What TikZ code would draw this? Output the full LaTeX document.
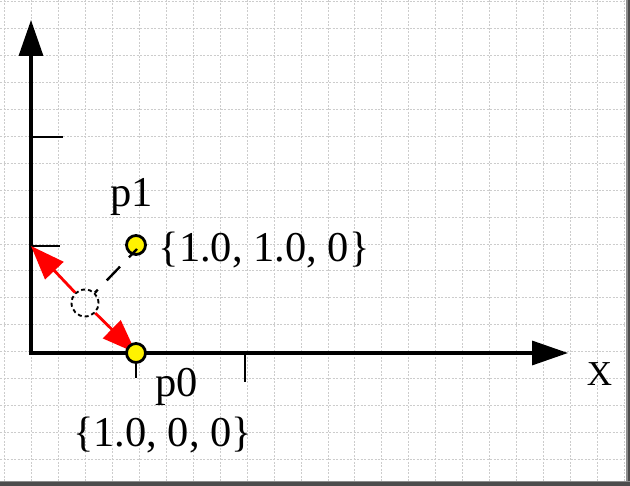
\documentclass[tikz,border=0pt]{standalone}
\usepackage{fontspec}
\setmainfont{Liberation Serif}
\usetikzlibrary{arrows.meta}
\begin{document}
\begin{tikzpicture}[x=1pt,y=-1pt,
  gridline/.style={draw=black!20, line width=0.9pt, dash pattern=on 2pt off 1.5pt},
  axisline/.style={line width=3.4pt, line join=miter, {Triangle[length=36pt,width=24pt]}-{Triangle[length=36pt,width=24pt]}},
  tickline/.style={line width=2.8pt},
  dot/.style={circle, fill=yellow, draw=black, line width=2.8pt, minimum size=19pt, inner sep=0pt},
  ghost/.style={circle, draw=black, line width=1.9pt, dash pattern=on 4pt off 3pt, minimum size=27pt, inner sep=0pt},
  redarrow/.style={draw=red, line width=2.8pt, -{Triangle[length=34pt,width=25pt]}},
  leader/.style={line width=2.4pt, dash pattern=on 19pt off 13pt, dash phase=15pt},
  lbl/.style={inner sep=0pt, anchor=base, font=\fontsize{42.5}{42.5}\selectfont},
]
\useasboundingbox (0,0) rectangle (630,486);
\fill[white] (0,0) rectangle (630,486);
% grid
\foreach \k in {0,...,23} {
  \draw[gridline] ({4.8+26.93*\k},0) -- ({4.8+26.93*\k},481);
}
\foreach \k in {0,...,17} {
  \draw[gridline] (0,{1.9+26.9*\k}) -- (626,{1.9+26.9*\k});
}
% frame shadow
\fill[black!45] (626,0) rectangle (627.5,486);
\fill[black!70] (627.5,0) rectangle (630,486);
\fill[black!45] (0,481) rectangle (630,482.5);
\fill[black!70] (0,482.5) rectangle (630,486);
% axes
\coordinate (O) at (31,353);
\coordinate (ytip) at (31,20);
\coordinate (xtip) at (568,353);
\draw[axisline] (ytip) -- (O) -- (xtip);
% ticks
\coordinate (y1) at (31,246);
\coordinate (y1e) at (60,246);
\coordinate (y2) at (31,137);
\coordinate (y2e) at (63,137);
\coordinate (x1) at (136,353);
\coordinate (x1e) at (136,378);
\coordinate (x2) at (245,353);
\coordinate (x2e) at (245,382);
\draw[tickline] (y1) -- (y1e);
\draw[tickline] (y2) -- (y2e);
\draw[tickline] (x1) -- (x1e);
\draw[tickline] (x2) -- (x2e);
% dashed circle and arrows
\node[ghost] (c) at (85,303) {};
\coordinate (p0c) at (136,353);
\draw[redarrow] (c) -- (y1);
\draw[redarrow] (c) -- (p0c);
\node[dot] (p0) at (p0c) {};
\node[dot] (p1) at (136,245) {};
\draw[leader] (c) -- ([shift={(1,4)}]p1.center);
% labels
\node[lbl] (lp1) at (131.5,206.7) {p1};
\node[lbl] (cp1) at (264,262) {\{1.0, 1.0, 0\}};
\node[lbl] (lp0) at (176.5,397) {p0};
\node[lbl] (cp0) at (162.5,446.7) {\{1.0, 0, 0\}};
\node[lbl, font=\fontsize{35}{35}\selectfont] (lx) at (599.5,386) {X};
\end{tikzpicture}
\end{document}
